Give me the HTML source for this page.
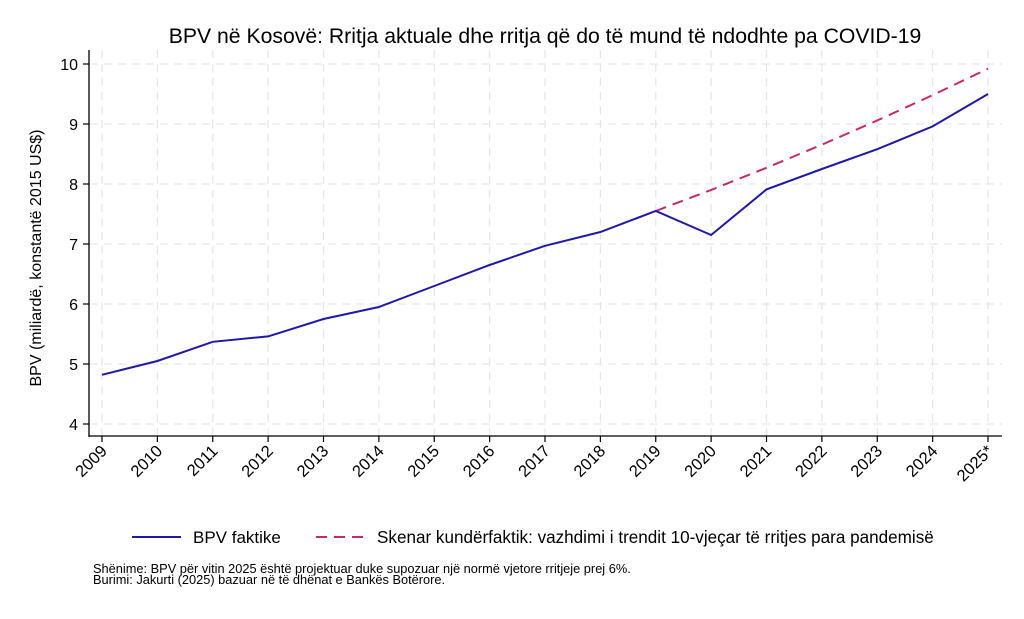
<!DOCTYPE html>
<html><head><meta charset="utf-8"><style>
body{margin:0;background:#fff;}
svg text{font-family:"Liberation Sans",Arial,sans-serif;fill:#000;}
</style></head><body>
<svg width="1024" height="614" viewBox="0 0 1024 614" xmlns="http://www.w3.org/2000/svg">
<rect width="1024" height="614" fill="#fff"/>
<text x="545" y="43" font-size="21.2" text-anchor="middle">BPV në Kosovë: Rritja aktuale dhe rritja që do të mund të ndodhte pa COVID-19</text>
<g stroke="#e6e6e6" stroke-width="1.2" stroke-dasharray="8,6">
<line x1="90" x2="1002" y1="64" y2="64"/><line x1="90" x2="1002" y1="124" y2="124"/><line x1="90" x2="1002" y1="184" y2="184"/><line x1="90" x2="1002" y1="244" y2="244"/><line x1="90" x2="1002" y1="304" y2="304"/><line x1="90" x2="1002" y1="364" y2="364"/><line x1="90" x2="1002" y1="424" y2="424"/>
</g>
<g id="vg" stroke="#e6e6e6" stroke-width="1.2" stroke-dasharray="8,6"></g>
<line x1="89" y1="50" x2="89" y2="437" stroke="#000" stroke-width="1.3"/>
<line x1="89" y1="436" x2="1002" y2="436" stroke="#000" stroke-width="1.3"/>
<g stroke="#000" stroke-width="1.2">
<line x1="83" x2="89" y1="64" y2="64"/><line x1="83" x2="89" y1="124" y2="124"/><line x1="83" x2="89" y1="184" y2="184"/><line x1="83" x2="89" y1="244" y2="244"/><line x1="83" x2="89" y1="304" y2="304"/><line x1="83" x2="89" y1="364" y2="364"/><line x1="83" x2="89" y1="424" y2="424"/>
</g>
<g font-size="16" text-anchor="end">
<text x="78" y="70">10</text><text x="78" y="130">9</text><text x="78" y="190">8</text><text x="78" y="250">7</text><text x="78" y="310">6</text><text x="78" y="370">5</text><text x="78" y="430">4</text>
</g>
<text transform="translate(41,258) rotate(-90)" font-size="16" text-anchor="middle">BPV (miliardë, konstantë 2015 US$)</text>
<g id="xt"></g>
<polyline id="cf" fill="none" stroke="#c8286a" stroke-width="2" stroke-dasharray="11,7"/>
<polyline id="act" fill="none" stroke="#1f1aa6" stroke-width="2"/>
<line x1="132" y1="537" x2="181" y2="537" stroke="#1f1aa6" stroke-width="2"/>
<text x="193" y="543" font-size="17">BPV faktike</text>
<line x1="316" y1="537" x2="366" y2="537" stroke="#c8286a" stroke-width="2" stroke-dasharray="11,7"/>
<text x="377" y="543" font-size="17.1">Skenar kundërfaktik: vazhdimi i trendit 10-vjeçar të rritjes para pandemisë</text>
<text x="93" y="573" font-size="12.8">Shënime: BPV për vitin 2025 është projektuar duke supozuar një normë vjetore rritjeje prej 6%.</text>
<text x="93" y="584" font-size="12.8">Burimi: Jakurti (2025) bazuar në të dhënat e Bankës Botërore.</text>
</svg>
<script>
var ns="http://www.w3.org/2000/svg";
function X(i){return 102+i*55.375;}function Y(v){return 424-(v-4)*60;}
var vg=document.getElementById("vg"),xt=document.getElementById("xt");
for(var i=0;i<17;i++){var x=X(i);
var l=document.createElementNS(ns,"line");l.setAttribute("x1",x);l.setAttribute("x2",x);l.setAttribute("y1",50);l.setAttribute("y2",436);vg.appendChild(l);
var t=document.createElementNS(ns,"line");t.setAttribute("x1",x);t.setAttribute("x2",x);t.setAttribute("y1",436);t.setAttribute("y2",442);t.setAttribute("stroke","#000");t.setAttribute("stroke-width","1.2");xt.appendChild(t);
var tx=document.createElementNS(ns,"text");tx.setAttribute("font-size","16.5");tx.setAttribute("text-anchor","end");tx.setAttribute("transform","translate("+(x+6)+",452) rotate(-45)");tx.textContent=(2009+i)+(i==16?"*":"");xt.appendChild(tx);}
var d=[4.82,5.05,5.37,5.46,5.75,5.95,6.3,6.65,6.97,7.2,7.55,7.15,7.91,8.25,8.58,8.96,9.5];
document.getElementById("act").setAttribute("points",d.map(function(v,i){return X(i)+","+Y(v)}).join(" "));
var p=[];for(var k=0;k<=6;k++)p.push(X(10+k)+","+Y(7.55*Math.pow(1.0466,k)));
document.getElementById("cf").setAttribute("points",p.join(" "));
</script>
</body></html>
